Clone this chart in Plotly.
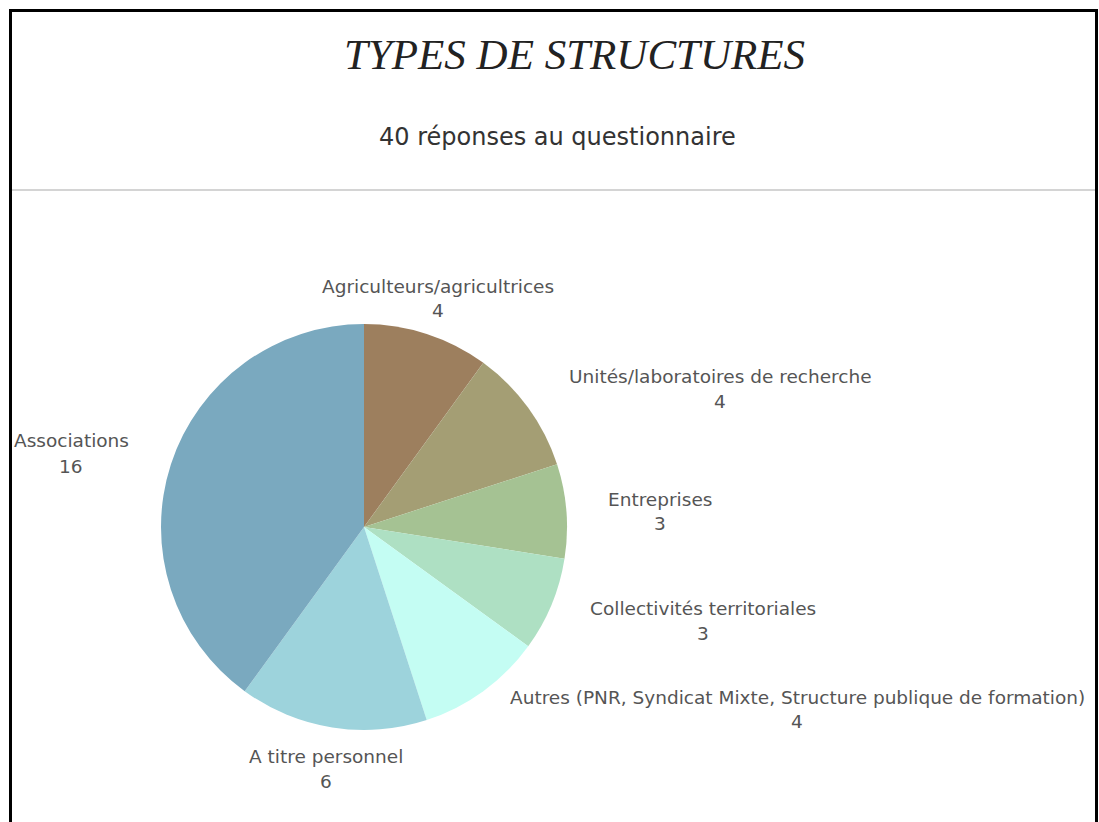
import plotly.graph_objects as go

labels = ["Agriculteurs/agricultrices", "Unités/laboratoires de recherche", "Entreprises",
          "Collectivités territoriales", "Autres (PNR, Syndicat Mixte, Structure publique de formation)",
          "A titre personnel", "Associations"]
values = [4, 4, 3, 3, 4, 6, 16]
colors = ["#9d7f5e", "#a49e74", "#a5c293", "#aee0c3", "#c4fdf3", "#9dd3dc", "#7aa9bf"]

# label anchor positions in page pixels (center x, first line y, second line y)
label_pos = [(438, 286, 311), (720, 376, 402), (660, 499, 523), (703, 608, 633),
             (797, 697, 721), (326, 756, 781), (71, 441, 466)]

W, H = 1099, 822
def px(x):
    return x / W
def py(y):
    return 1 - y / H

cx, cy, r = 364, 527, 203

fig = go.Figure(go.Pie(
    labels=labels, values=values, sort=False, direction="clockwise", rotation=0,
    marker=dict(colors=colors, line=dict(width=0)),
    textinfo="none", hoverinfo="label+value", showlegend=False,
    domain=dict(x=[px(cx - r), px(cx + r)], y=[py(cy + r), py(cy - r)]),
))

lab_font = dict(family="DejaVu Sans", size=18.5, color="#555555")
annotations = []
for lab, val, (x, y1, y2) in zip(labels, values, label_pos):
    annotations.append(dict(x=px(x), y=py(y1), xref="paper", yref="paper", text=lab,
                            showarrow=False, xanchor="center", yanchor="middle", font=lab_font))
    annotations.append(dict(x=px(x), y=py(y2), xref="paper", yref="paper", text=str(val),
                            showarrow=False, xanchor="center", yanchor="middle", font=lab_font))

annotations.append(dict(x=px(574), y=py(55), xref="paper", yref="paper",
                        text="<i>TYPES DE STRUCTURES</i>", showarrow=False,
                        xanchor="center", yanchor="middle",
                        font=dict(family="Liberation Serif", size=43, color="#222222")))
annotations.append(dict(x=px(557), y=py(137), xref="paper", yref="paper",
                        text="40 réponses au questionnaire", showarrow=False,
                        xanchor="center", yanchor="middle",
                        font=dict(family="DejaVu Sans", size=24, color="#333333")))

shapes = [
    dict(type="line", xref="paper", yref="paper", x0=px(10.5), x1=px(10.5), y0=py(9), y1=py(830),
         line=dict(color="black", width=3)),
    dict(type="line", xref="paper", yref="paper", x0=px(9), x1=px(1098), y0=py(10.5), y1=py(10.5),
         line=dict(color="black", width=3)),
    dict(type="line", xref="paper", yref="paper", x0=px(1096.5), x1=px(1096.5), y0=py(9), y1=py(830),
         line=dict(color="black", width=3)),
    dict(type="line", xref="paper", yref="paper", x0=px(12), x1=px(1095), y0=py(190), y1=py(190),
         line=dict(color="#d4d4d4", width=2)),
]

fig.update_layout(
    width=W, height=H, margin=dict(l=0, r=0, t=0, b=0),
    paper_bgcolor="white", plot_bgcolor="white",
    annotations=annotations, shapes=shapes,
)

fig.write_html(
    "out.html",
    config={"displayModeBar": False},
    post_script="document.body.style.margin='0';document.body.style.overflow='hidden';"
                "document.documentElement.style.overflow='hidden';",
)
